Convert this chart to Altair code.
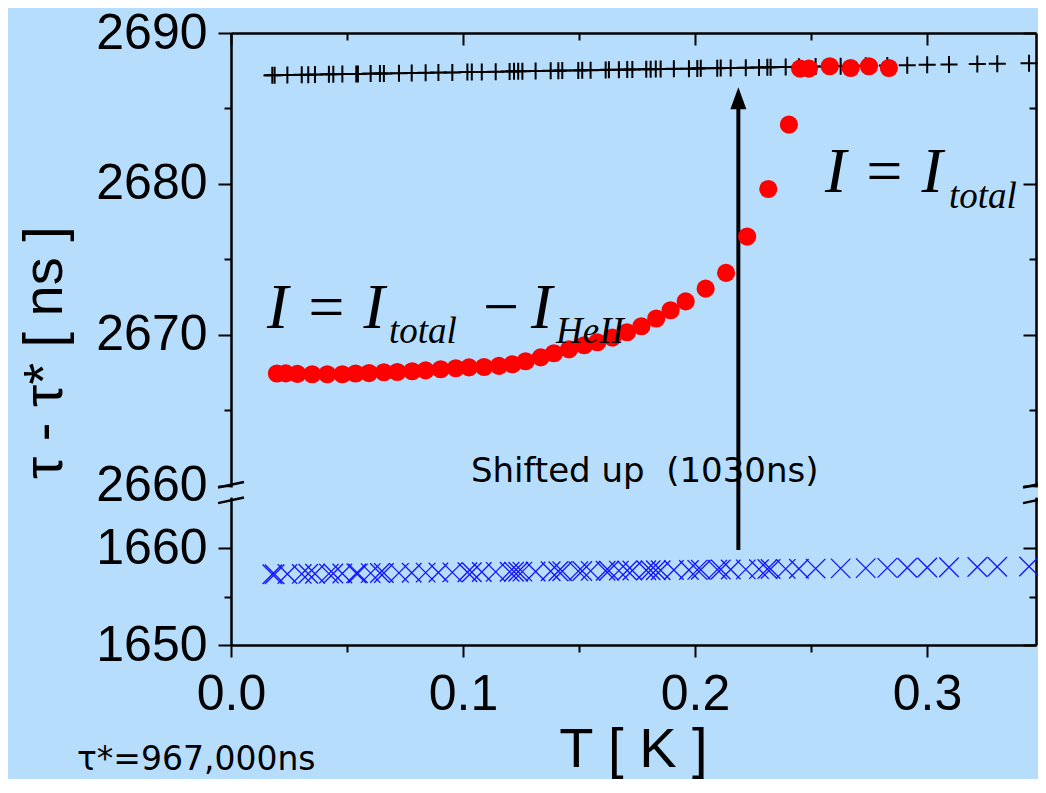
import altair as alt
import pandas as pd

BG = "#b7ddfd"

# ---------------- data ----------------
# red filled circles:  I = I_total - I_HeII  (merging into I = I_total)
red_T = [0.0198, 0.0236, 0.0286, 0.0350, 0.0415, 0.0480, 0.0537, 0.0595, 0.0659, 0.0717,
         0.0781, 0.0839, 0.0904, 0.0969, 0.1026, 0.1091, 0.1155, 0.1213, 0.1270, 0.1335,
         0.1392, 0.1457, 0.1522, 0.1579, 0.1644, 0.1707, 0.1769, 0.1833, 0.1895, 0.1960,
         0.2046, 0.2134, 0.2225, 0.2316, 0.2405, 0.2453, 0.2491, 0.2581, 0.2671, 0.2750,
         0.2836]
red_tau = [2667.45, 2667.46, 2667.42, 2667.40, 2667.40, 2667.40, 2667.45, 2667.48, 2667.53, 2667.55,
           2667.60, 2667.66, 2667.73, 2667.80, 2667.86, 2667.88, 2667.95, 2668.06, 2668.26, 2668.52,
           2668.79, 2669.05, 2669.32, 2669.52, 2669.83, 2670.18, 2670.58, 2671.09, 2671.64, 2672.23,
           2673.07, 2674.11, 2676.52, 2679.67, 2683.93, 2687.64, 2687.64, 2687.80, 2687.68, 2687.80,
           2687.68]

# black "+" markers (I = I_total, shifted up by 1030 ns)
plus_T = [0.0178, 0.0188, 0.0243, 0.0305, 0.0333, 0.0362, 0.0422, 0.0441, 0.0480, 0.0540,
          0.0547, 0.0602, 0.0642, 0.0659, 0.0724, 0.0779, 0.0839, 0.0894, 0.0954, 0.1019,
          0.1038, 0.1081, 0.1141, 0.1201, 0.1220, 0.1238, 0.1256, 0.1313, 0.1378, 0.1411,
          0.1428, 0.1497, 0.1514, 0.1550, 0.1615, 0.1629, 0.1672, 0.1708, 0.1730, 0.1790,
          0.1809, 0.1831, 0.1852, 0.1909, 0.1974, 0.2010, 0.2025, 0.2096, 0.2111, 0.2154,
          0.2219, 0.2276, 0.2312, 0.2326, 0.2391, 0.2448, 0.2520, 0.2628, 0.2736, 0.2829,
          0.2915, 0.3001, 0.3095, 0.3217, 0.3303, 0.3440]
plus_tau = [2687.20, 2687.20, 2687.22, 2687.23, 2687.24, 2687.25, 2687.26, 2687.27, 2687.28, 2687.29,
            2687.29, 2687.31, 2687.32, 2687.32, 2687.34, 2687.35, 2687.36, 2687.38, 2687.39, 2687.41,
            2687.41, 2687.42, 2687.44, 2687.45, 2687.46, 2687.46, 2687.47, 2687.48, 2687.50, 2687.50,
            2687.51, 2687.52, 2687.53, 2687.54, 2687.55, 2687.56, 2687.57, 2687.58, 2687.58, 2687.60,
            2687.60, 2687.61, 2687.61, 2687.63, 2687.64, 2687.65, 2687.66, 2687.67, 2687.68, 2687.69,
            2687.70, 2687.72, 2687.73, 2687.73, 2687.75, 2687.76, 2687.78, 2687.80, 2687.83, 2687.85,
            2687.87, 2687.89, 2687.92, 2687.95, 2687.97, 2688.00]

# blue "x" markers (I = I_total, raw)
blue_T = plus_T
blue_tau = [1657.30, 1657.30, 1657.32, 1657.33, 1657.34, 1657.35, 1657.36, 1657.37, 1657.38, 1657.39,
            1657.39, 1657.41, 1657.42, 1657.42, 1657.44, 1657.45, 1657.46, 1657.48, 1657.49, 1657.51,
            1657.51, 1657.52, 1657.54, 1657.55, 1657.56, 1657.56, 1657.57, 1657.58, 1657.60, 1657.60,
            1657.61, 1657.62, 1657.63, 1657.64, 1657.65, 1657.66, 1657.67, 1657.68, 1657.68, 1657.70,
            1657.70, 1657.71, 1657.71, 1657.73, 1657.74, 1657.75, 1657.76, 1657.77, 1657.78, 1657.79,
            1657.80, 1657.82, 1657.83, 1657.83, 1657.85, 1657.86, 1657.88, 1657.90, 1657.93, 1657.95,
            1657.97, 1657.99, 1658.02, 1658.05, 1658.07, 1658.10]

# thin line through the "+" markers
trend_T = [0.014, 0.27]
trend_tau = [2687.19, 2687.82]

# arrow "Shifted up (1030ns)"
arrow_T = [0.2187]
arrow_from = [1659.8]
arrow_to = [2685.2]
arrow_tip = [2685.68]

# axis ticks
x_major = [0.0, 0.1, 0.2, 0.3]
x_minor = [0.05, 0.15, 0.25]
y_major = [1650, 1660, 2660, 2670, 2680, 2690]
y_minor = [1655, 2665, 2675, 2685]

# broken y axis
y_domain = [1650, 1665.2, 2659.9, 2690]
y_range = [612, 464.6, 454.5, 0]
x_domain = [0.0, 0.347]

# ---------------- scales / axes ----------------
xs = alt.Scale(domain=x_domain, nice=False, zero=False)
ys = alt.Scale(domain=y_domain, range=y_range, nice=False, zero=False)

COMMON = dict(grid=False, labelFlush=False, labelOverlap=False, tickColor="black",
              domainColor="black", labelColor="black", titleColor="black",
              tickWidth=2, domainWidth=2.5)


def hidden(orient, values, size, offset=0, domain=False, ticks=True):
    return alt.Axis(orient=orient, values=values, tickSize=size, offset=offset,
                    labels=False, domain=domain, ticks=ticks, title=None, **COMMON)


ax_bottom = alt.Axis(orient="bottom", values=x_major, format=".1f", tickSize=12,
                     labelFont="Liberation Sans", labelFontSize=50, labelPadding=52,
                     labelBaseline="alphabetic",
                     title="T [ K ]", titleFont="Liberation Sans", titleFontSize=56,
                     titleFontWeight="normal", titleX=402, titleY=121,
                     titleBaseline="alphabetic", titleAlign="center", **COMMON)
ax_left = alt.Axis(orient="left", values=y_major, format="d", tickSize=13,
                   labelFont="Liberation Sans", labelFontSize=50, labelPadding=11,
                   labelBaseline="middle",
                   title="τ - τ* [ ns ]", titleFont="Liberation Sans", titleFontSize=56,
                   titleFontWeight="normal", titleX=-170, titleY=319, titleAngle=270,
                   titleBaseline="alphabetic", titleAlign="center", **COMMON)


def enc(chart, xa=None, ya=None, yfield="tau:Q"):
    return chart.encode(
        x=alt.X("T:Q", scale=xs, axis=xa),
        y=alt.Y(yfield, scale=ys, axis=ya),
    )


df_red = pd.DataFrame({"T": red_T, "tau": red_tau})
df_plus = pd.DataFrame({"T": plus_T, "tau": plus_tau})
df_blue = pd.DataFrame({"T": blue_T, "tau": blue_tau})
df_trend = pd.DataFrame({"T": trend_T, "tau": trend_tau})
df_arrow = pd.DataFrame({"T": arrow_T, "tau": arrow_from, "tau2": arrow_to, "tip": arrow_tip})

blue = enc(alt.Chart(df_blue).mark_point(shape="M-1,-1L1,1M-1,1L1,-1", filled=False, size=380,
                                         color="#1414ff", strokeWidth=1.3, opacity=1),
           hidden("top", x_major, 12, offset=-12), hidden("right", y_major, 13, offset=-13))

plus = enc(alt.Chart(df_plus).mark_point(shape="M-1,0L1,0M0,-1L0,1", filled=False, size=289,
                                         color="black", strokeWidth=2, opacity=1),
           hidden("bottom", x_minor, 7), hidden("left", y_minor, 7))

trend = enc(alt.Chart(df_trend).mark_line(color="black", strokeWidth=1.6),
            hidden("top", x_minor, 7, offset=-7), hidden("right", y_minor, 7, offset=-7))

arrow = alt.Chart(df_arrow).mark_rule(color="black", strokeWidth=4).encode(
    x=alt.X("T:Q", scale=xs, axis=hidden("top", x_major, 0, domain=True, ticks=False)),
    y=alt.Y("tau:Q", scale=ys, axis=hidden("right", y_major, 0, domain=True, ticks=False)),
    y2="tau2:Q",
)
head = alt.Chart(df_arrow).mark_point(shape="M0,-1L0.727,1L-0.727,1Z", filled=True, size=484,
                                      color="black", opacity=1).encode(
    x=alt.X("T:Q", scale=xs, axis=None), y=alt.Y("tip:Q", scale=ys, axis=None))

red = enc(alt.Chart(df_red).mark_point(shape="circle", filled=True, size=330,
                                       color="#ff0000", opacity=1),
          ax_bottom, ax_left)

# ---------------- axis break marks ----------------
brk = pd.DataFrame({"Tl": [-0.0033, 0.3437], "Tr": [0.0033, 0.3503]})
mask = alt.Chart(brk).mark_rect(color=BG).encode(
    x=alt.X("Tl:Q", scale=xs, axis=None), x2="Tr:Q",
    y=alt.Y("a:Q", scale=ys, axis=None), y2="b:Q",
).transform_calculate(a="2659.9", b="1665.2")

slash_df = pd.DataFrame({
    "x1": [-0.0056, -0.0056, 0.3414, 0.3414],
    "x2": [0.0056, 0.0056, 0.3526, 0.3526],
    "y1": [2659.54, 1664.63, 2659.54, 1664.63],
    "y2": [2660.26, 1665.77, 2660.26, 1665.77],
})
slashes = alt.Chart(slash_df).mark_rule(color="black", strokeWidth=2.5).encode(
    x=alt.X("x1:Q", scale=xs, axis=None), x2="x2:Q",
    y=alt.Y("y1:Q", scale=ys, axis=None), y2="y2:Q",
)

# ---------------- annotations ----------------
SERIF = "Liberation Serif"
SANS = "DejaVu Sans"
ann = [
    # text, T, tau, size, font, style
    ("I = I", 0.256, 2679.45, 64, SERIF, "italic"),
    ("total", 0.3095, 2678.39, 37, SERIF, "italic"),
    ("I = I", 0.0155, 2670.44, 64, SERIF, "italic"),
    ("total", 0.0681, 2669.45, 37, SERIF, "italic"),
    ("\u2212", 0.1086, 2670.44, 64, SERIF, "normal"),
    ("I", 0.1293, 2670.44, 64, SERIF, "italic"),
    ("HeII", 0.1401, 2669.45, 37, SERIF, "italic"),
    ("Shifted up\u00a0 (1030ns)", 0.1034, 2660.25, 34, SANS, "normal"),
    ("\u03c4*=967,000ns", -0.0664, 1637.11, 33, SANS, "normal"),
]
texts = []
for t, T, tau, sz, font, style in ann:
    d = pd.DataFrame({"T": [T], "tau": [tau], "label": [t]})
    texts.append(
        alt.Chart(d).mark_text(align="left", baseline="alphabetic", fontSize=sz, font=font,
                               fontStyle=style, color="black").encode(
            x=alt.X("T:Q", scale=xs, axis=None), y=alt.Y("tau:Q", scale=ys, axis=None),
            text="label:N")
    )

chart = alt.layer(blue, plus, trend, arrow, head, red, mask, slashes, *texts).resolve_axis(
    x="independent", y="independent"
).properties(
    width=805, height=612,
    autosize=alt.AutoSizeParams(type="none"),
    padding={"left": 223, "top": 25, "right": 2, "bottom": 134},
    background=BG,
).configure_view(stroke=None, fill=None)

chart.save("out.html", embed_options={"renderer": "svg", "actions": False})
